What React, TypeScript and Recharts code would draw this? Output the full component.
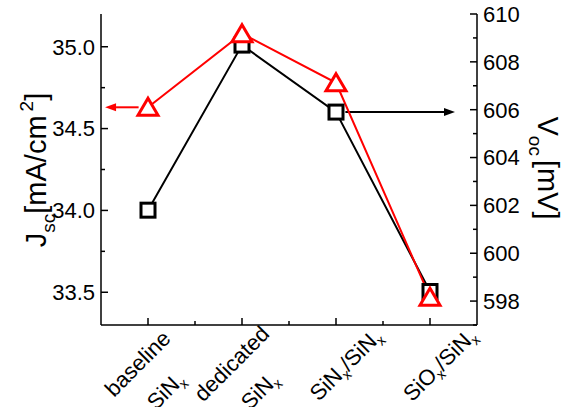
import { ComposedChart, Line, XAxis, YAxis, ReferenceLine } from 'recharts';

// x labels, "_x" marks a subscript x
const categories = [['baseline', 'SiN_x'], ['dedicated', 'SiN_x'], ['SiN_x/SiN_x'], ['SiO_x/SiN_x']];
const jsc = [34.63, 35.08, 34.78, 33.47];
const voc = [601.8, 608.7, 605.9, 598.4];
const xTicks = [0, 0.5, 1, 1.5, 2, 2.5, 3];
const leftTicks = [33.5, 34.0, 34.5, 35.0];
const leftMinor = [33.75, 34.25, 34.75];
const rightTicks = [598, 600, 602, 604, 606, 608, 610];
const rightMinor = [597, 599, 601, 603, 605, 607, 609];

const data = categories.map((_, i) => ({ x: i, jsc: jsc[i], voc: voc[i] }));

const FONT = '"Liberation Sans", Arial, sans-serif';
const PL = 101;
const PR = 477;
const PT = 14;
const PB = 325;

function rich(s: string) {
  const parts = s.split('_x');
  const out: any[] = [];
  parts.forEach((p, i) => {
    if (p) out.push(<tspan key={'p' + i} dy={i > 0 ? -5 : undefined}>{p}</tspan>);
    if (i < parts.length - 1) {
      out.push(<tspan key={'s' + i} dy={5} fontSize={14}>x</tspan>);
    }
  });
  return out;
}

const LeftTick = (props: any) => {
  const { y, payload } = props;
  const major = leftTicks.includes(payload.value);
  return (
    <g>
      <line x1={PL} x2={PL + (major ? 7 : 4)} y1={y} y2={y} stroke="#000" strokeWidth={1.5} />
      {major && (
        <text x={PL - 6} y={y} dy="0.36em" textAnchor="end" fontSize={22} fontFamily={FONT} fill="#000">
          {payload.value.toFixed(1)}
        </text>
      )}
    </g>
  );
};

const RightTick = (props: any) => {
  const { y, payload } = props;
  const major = rightTicks.includes(payload.value);
  return (
    <g>
      <line x1={PR} x2={PR - (major ? 7 : 4)} y1={y} y2={y} stroke="#000" strokeWidth={1.5} />
      {major && (
        <text x={PR + 6} y={y} dy="0.36em" textAnchor="start" fontSize={22} fontFamily={FONT} fill="#000">
          {payload.value}
        </text>
      )}
    </g>
  );
};

const BottomTick = (props: any) => {
  const x = Number(props.x);
  const v = props.payload.value;
  const major = Number.isInteger(v);
  const lines = major ? categories[v] : [];
  const pos = lines.length === 2 ? [[-10, 39], [18, 66]] : [[10, 40]];
  return (
    <g>
      <line x1={x} x2={x} y1={PB} y2={PB - (major ? 7 : 4)} stroke="#000" strokeWidth={1.5} />
      {lines.map((l, i) => (
        <text
          key={i}
          x={0}
          y={0}
          textAnchor="middle"
          dy={7}
          fontSize={22}
          fontFamily={FONT}
          fill="#000"
          transform={`translate(${x + pos[i][0]},${PB + pos[i][1]}) rotate(-45)`}
        >
          {rich(l)}
        </text>
      ))}
    </g>
  );
};

const TopTick = (props: any) => {
  const { x, payload } = props;
  const major = Number.isInteger(payload.value);
  return <line x1={x} x2={x} y1={PT} y2={PT + (major ? 7 : 4)} stroke="#000" strokeWidth={1.5} />;
};

const Square = (props: any) => {
  const { cx, cy } = props;
  return <rect x={cx - 7} y={cy - 7} width={14} height={14} fill="#fff" stroke="#000" strokeWidth={3} />;
};

const Triangle = (props: any) => {
  const { cx, cy } = props;
  return (
    <polygon
      points={`${cx},${cy - 9} ${cx + 10},${cy + 8} ${cx - 10},${cy + 8}`}
      fill="#fff"
      stroke="#ff0000"
      strokeWidth={3}
    />
  );
};

const arrow = (color: string) => (p: any) => {
  const { x1, y1, x2, y2 } = p;
  const dir = Math.sign(x2 - x1);
  const hl = 11;
  const hw = 4;
  return (
    <g>
      <line x1={x1} y1={y1} x2={x2 - dir * hl} y2={y2} stroke={color} strokeWidth={2} />
      <polygon points={`${x2},${y2} ${x2 - dir * hl},${y2 - hw} ${x2 - dir * hl},${y2 + hw}`} fill={color} />
    </g>
  );
};

const LeftTitle = () => (
  <text transform="translate(46,170) rotate(-90)" textAnchor="middle" fontSize={29} fontFamily={FONT} fill="#000">
    J<tspan fontSize={19} dy={9}>sc</tspan>
    <tspan dy={-9}>[mA/cm</tspan>
    <tspan fontSize={19} dy={-13} dx={4}>2</tspan>
    <tspan dy={13}>]</tspan>
  </text>
);

const RightTitle = () => (
  <text transform="translate(538,168) rotate(90)" textAnchor="middle" fontSize={29} fontFamily={FONT} fill="#000">
    V<tspan fontSize={19} dy={9}>oc</tspan>
    <tspan dy={-9} dx={4}>[mV]</tspan>
  </text>
);

export default function App() {
  return (
    <div style={{ position: 'absolute', left: 0, top: 0, background: '#fff' }}>
      <ComposedChart width={573} height={407} data={data} margin={{ top: PT, right: 0, bottom: 0, left: 0 }}>
        <XAxis
          dataKey="x"
          type="number"
          domain={[-0.5, 3.5]}
          ticks={xTicks}
          interval={0}
          height={82}
          tickLine={false}
          axisLine={{ stroke: '#000', strokeWidth: 1.5 }}
          tick={<BottomTick />}
        />
        <XAxis
          xAxisId="top"
          orientation="top"
          dataKey="x"
          type="number"
          domain={[-0.5, 3.5]}
          ticks={xTicks}
          interval={0}
          height={0}
          tickLine={false}
          axisLine={{ stroke: '#000', strokeWidth: 1.5 }}
          tick={<TopTick />}
        />
        <YAxis
          yAxisId="left"
          type="number"
          domain={[33.3, 35.2]}
          allowDataOverflow
          ticks={[...leftTicks, ...leftMinor].sort((a, b) => a - b)}
          interval={0}
          width={101}
          tickLine={false}
          axisLine={{ stroke: '#000', strokeWidth: 1.5 }}
          tick={<LeftTick />}
          label={{ content: () => <LeftTitle /> }}
        />
        <YAxis
          yAxisId="right"
          orientation="right"
          type="number"
          domain={[597, 610]}
          allowDataOverflow
          ticks={[...rightTicks, ...rightMinor].sort((a, b) => a - b)}
          interval={0}
          width={96}
          tickLine={false}
          axisLine={{ stroke: '#000', strokeWidth: 1.5 }}
          tick={<RightTick />}
          label={{ content: () => <RightTitle /> }}
        />
        <ReferenceLine
          yAxisId="left"
          segment={[{ x: -0.1, y: jsc[0] }, { x: -0.457, y: jsc[0] }]}
          shape={arrow('#ff0000')}
        />
        <ReferenceLine
          yAxisId="right"
          segment={[{ x: 2.1, y: voc[2] }, { x: 3.266, y: voc[2] }]}
          shape={arrow('#000')}
        />
        <Line
          yAxisId="right"
          dataKey="voc"
          stroke="#000"
          strokeWidth={2}
          dot={<Square />}
          activeDot={false}
          isAnimationActive={false}
        />
        <Line
          yAxisId="left"
          dataKey="jsc"
          stroke="#ff0000"
          strokeWidth={2}
          dot={<Triangle />}
          activeDot={false}
          isAnimationActive={false}
        />
      </ComposedChart>
    </div>
  );
}
